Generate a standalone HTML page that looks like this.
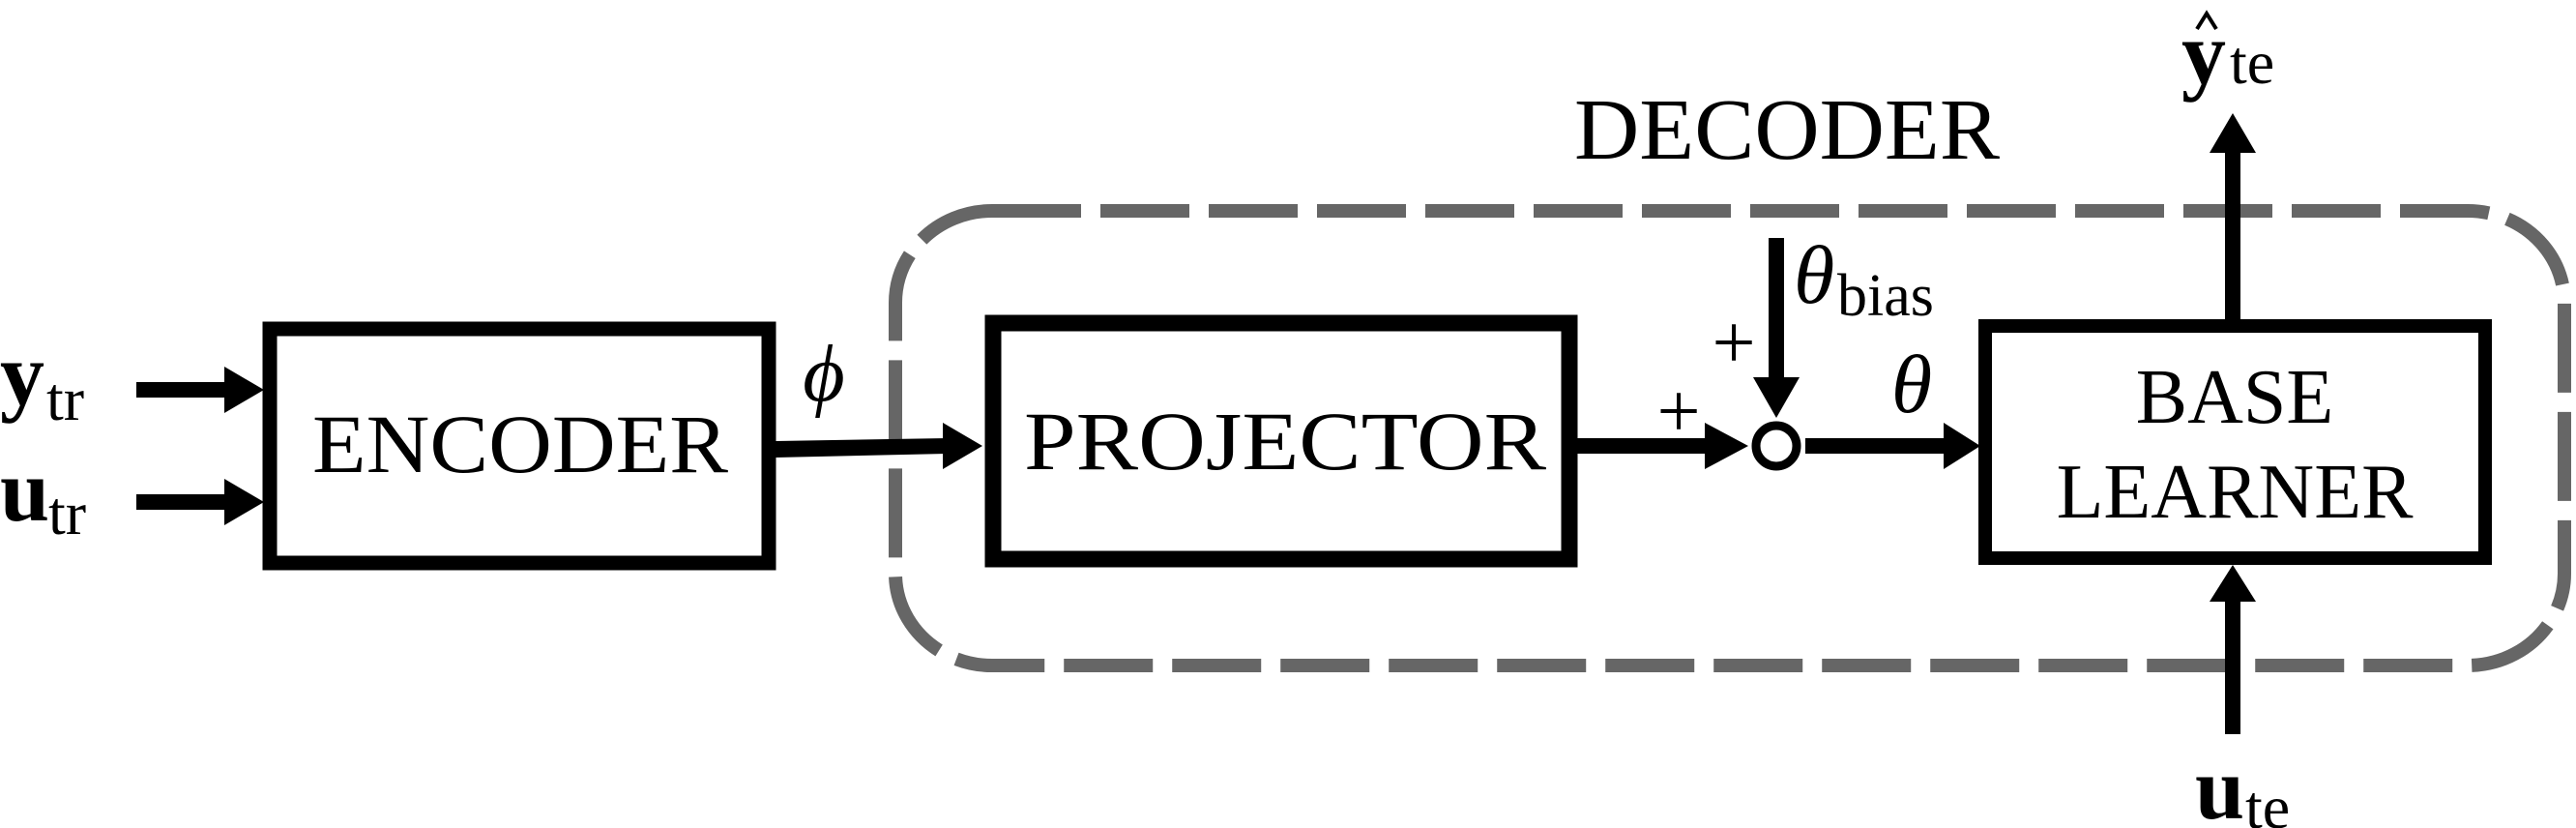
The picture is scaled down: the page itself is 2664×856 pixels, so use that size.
<!DOCTYPE html>
<html><head><meta charset="utf-8"><style>
html,body{margin:0;padding:0;background:#fff;}
svg{display:block;}
text{font-family:"Liberation Serif","DejaVu Serif",serif;fill:#000;}
</style></head><body>
<svg width="2664" height="856" viewBox="0 0 2664 856" xmlns="http://www.w3.org/2000/svg">
<rect x="926" y="218" width="1726" height="470" rx="100" ry="95" fill="none" stroke="#666" stroke-width="14" stroke-dasharray="92 20"/>
<text x="1848" y="164" font-size="90" text-anchor="middle" textLength="440" lengthAdjust="spacingAndGlyphs">DECODER</text>

<rect x="279" y="340" width="516" height="242" fill="none" stroke="#000" stroke-width="15"/>
<text x="538" y="488" font-size="86" text-anchor="middle" textLength="430" lengthAdjust="spacingAndGlyphs">ENCODER</text>

<text x="0" y="418" font-size="92" font-weight="bold">y</text>
<text x="48" y="434" font-size="64">tr</text>
<text x="0" y="538" font-size="92" font-weight="bold">u</text>
<text x="50" y="552" font-size="64">tr</text>
<rect x="141" y="395" width="96" height="16" fill="#000"/>
<polygon points="232,379 273,403 232,427" fill="#000"/>
<rect x="141" y="511" width="96" height="16" fill="#000"/>
<polygon points="232,495 273,519 232,543" fill="#000"/>

<polygon points="802,456 980,453 980,469 802,473" fill="#000"/>
<polygon points="975,437 1016,461 975,485" fill="#000"/>
<text x="852" y="414" font-size="84" font-style="italic" text-anchor="middle">ϕ</text>

<rect x="1027" y="334" width="596" height="244" fill="none" stroke="#000" stroke-width="17"/>
<text x="1329" y="485" font-size="86" text-anchor="middle" textLength="540" lengthAdjust="spacingAndGlyphs">PROJECTOR</text>

<rect x="1631" y="453" width="140" height="16" fill="#000"/>
<polygon points="1763,437 1808,461 1763,485" fill="#000"/>
<text x="1736" y="452" font-size="80" text-anchor="middle">+</text>

<rect x="1829" y="246" width="16" height="150" fill="#000"/>
<polygon points="1813,390 1861,390 1837,432" fill="#000"/>
<text x="1793" y="381" font-size="80" text-anchor="middle">+</text>
<text x="1855" y="313" font-size="86" font-style="italic">θ</text>
<text x="1900" y="326" font-size="62">bias</text>

<circle cx="1837" cy="461" r="21" fill="#fff" stroke="#000" stroke-width="9"/>

<rect x="1867" y="453" width="150" height="16" fill="#000"/>
<polygon points="2010,437 2048,461 2010,485" fill="#000"/>
<text x="1977" y="426" font-size="86" font-style="italic" text-anchor="middle">θ</text>

<rect x="2053" y="337" width="517" height="240" fill="none" stroke="#000" stroke-width="14"/>
<text x="2311" y="437" font-size="80" text-anchor="middle">BASE</text>
<text x="2311" y="535" font-size="80" text-anchor="middle">LEARNER</text>

<rect x="2301" y="152" width="16" height="180" fill="#000"/>
<polygon points="2285,158 2333,158 2309,117" fill="#000"/>
<text x="2256" y="86" font-size="92" font-weight="bold">y</text>
<polyline points="2272,30 2282,14 2292,30" fill="none" stroke="#000" stroke-width="4"/>
<text x="2306" y="86" font-size="64">te</text>

<rect x="2301" y="616" width="16" height="143" fill="#000"/>
<polygon points="2285,622 2333,622 2309,584" fill="#000"/>
<text x="2270" y="846" font-size="92" font-weight="bold">u</text>
<text x="2322" y="856" font-size="64">te</text>
</svg>
</body></html>
